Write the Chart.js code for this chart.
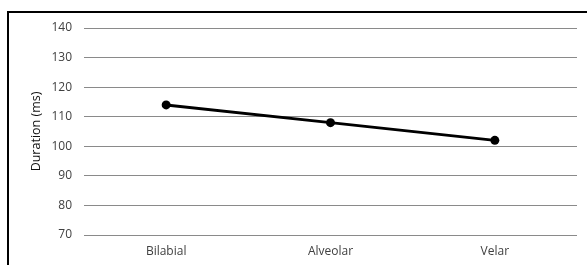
<!DOCTYPE html>
<html>
<head>
<meta charset="utf-8">
<script src="https://cdn.jsdelivr.net/npm/chart.js@4"></script>
<style>
  body { margin: 0; background: #fff; overflow: hidden; }
  #frame {
    position: absolute; left: 7px; top: 11px;
    width: 580px; height: 254px;
    border-left: 2px solid #000; border-top: 2px solid #000;
  }
  #chart { display: block; }
</style>
</head>
<body>
<div id="frame"><canvas id="chart" width="580" height="254"></canvas></div>
<script>
const ctx = document.getElementById('chart').getContext('2d');
let categorias = ["Bilabial", "Alveolar", "Velar"];
let duracoes = [114, 108, 102];
let ticksY = [70, 80, 90, 100, 110, 120, 130, 140];

let fonte = { family: "'Open Sans', 'Liberation Sans', sans-serif", size: 12 };

new Chart(ctx, {
    type: 'line',
    data: {
        labels: categorias,
        datasets: [{
            data: duracoes,
            borderColor: '#000000',
            backgroundColor: '#000000',
            borderWidth: 3,
            pointRadius: 4.5,
            pointBackgroundColor: '#000000',
            pointBorderWidth: 0,
            tension: 0,
            fill: false
        }]
    },
    options: {
        responsive: false,
        animation: false,
        layout: { padding: { top: 15, right: 12, left: 18, bottom: 0 } },
        plugins: {
            legend: { display: false },
            tooltip: { enabled: false }
        },
        scales: {
            x: {
                offset: true,
                grid: { display: false, drawTicks: false },
                border: { display: false },
                ticks: { color: '#404040', font: fonte, padding: 9 },
                afterFit: (s) => { s.height = 32; }
            },
            y: {
                min: ticksY[0],
                max: ticksY[ticksY.length - 1],
                afterBuildTicks: (s) => { s.ticks = ticksY.map(v => ({ value: v })); },
                grid: { color: '#8a8a8a', lineWidth: 1, drawTicks: false },
                border: { display: false },
                ticks: { color: '#404040', font: fonte, padding: 12 },
                title: {
                    display: true,
                    text: 'Duration (ms)',
                    color: '#111111',
                    font: { family: fonte.family, size: 12.5 },
                    padding: { top: 2, bottom: 0 }
                },
                afterFit: (s) => {
                    s.width = 57;
                    s.paddingTop = 0;
                    s.paddingBottom = 0;
                }
            }
        }
    }
});
</script>
</body>
</html>
